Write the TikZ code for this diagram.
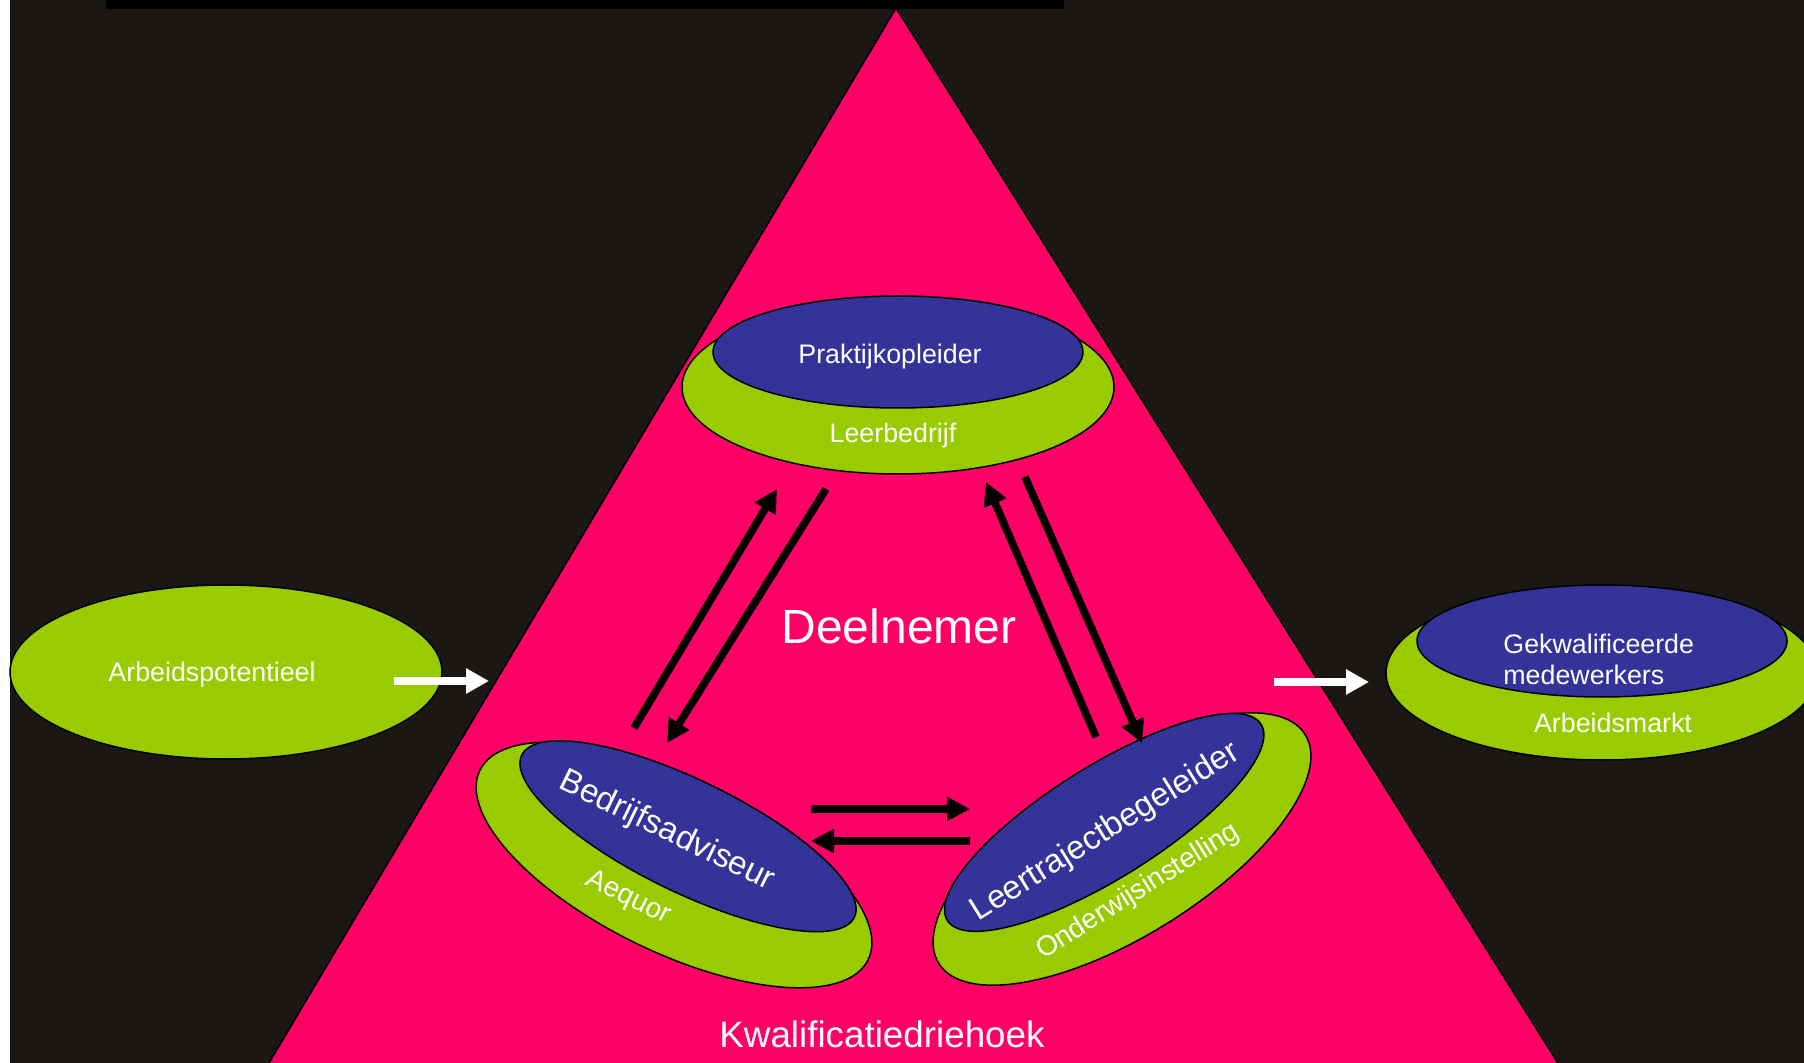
\documentclass[tikz,border=0pt]{standalone}
\usepackage{fontspec}
\setmainfont{Liberation Sans}
\usetikzlibrary{arrows.meta,positioning,shapes.geometric}
\definecolor{groen}{HTML}{99CC00}
\definecolor{blauw}{HTML}{333399}
\definecolor{roze}{HTML}{FF0066}
\definecolor{donker}{HTML}{1A1714}

\begin{document}
\begin{tikzpicture}[x=0.5pt,y=-0.5pt]
      \tikzstyle{schijf}=[ellipse,draw,line width=0.75pt,inner sep=0pt,fill=groen,minimum width=216pt,minimum height=87pt]
      \tikzstyle{kern}=[ellipse,draw,line width=0.75pt,inner sep=0pt,fill=blauw,minimum width=185pt,minimum height=56pt]
      \tikzstyle{klein}=[text=white,inner sep=0pt,font=\fontsize{13.4pt}{15.5pt}\selectfont]
      \tikzstyle{groot}=[text=white,inner sep=0pt,font=\fontsize{16.5pt}{19pt}\selectfont]
      \tikzstyle{pijl}=[line width=3.8pt,-{Triangle[length=11.5pt,width=11.5pt]}]
      \tikzstyle{witpijl}=[white,line width=4pt,-{Triangle[length=11.5pt,width=12pt]}]
      \useasboundingbox (0,0) rectangle (1804,1063);
      \clip (0,0) rectangle (1804,1063);
      \fill[white] (0,0) rectangle (10,1063);
      \fill[donker] (10,0) rectangle (1804,1063);
      \fill[black] (106,0) rectangle (1064,9);
      \draw[fill=roze,line width=0.75pt] (896,8) -- (1581,1100) -- (247,1100) -- cycle;
      % top
      \begin{scope}[shift={(898,387)}]
        \node[schijf] (leerbedrijf) at (0,0) {};
        \node[kern] (praktijk) at (0,-35) {};
        \node[klein] (praktijktxt) at (-8,-30) {Praktijkopleider};
        \node[klein] (leerbedrijftxt) at (-5,49) {Leerbedrijf};
      \end{scope}
      % left
      \begin{scope}[shift={(674,865)},rotate=-26,transform shape]
        \node[schijf] (aequor) at (0,0) {};
        \node[kern] (adviseur) at (0,-32) {};
        \node[groot] (adviseurtxt) at (-21,-27) {Bedrijfsadviseur};
        \node[klein,font=\fontsize{14pt}{16pt}\selectfont] (aequortxt) at (-27,50) {Aequor};
      \end{scope}
      % right
      \begin{scope}[shift={(1122,849)},rotate=32,transform shape]
        \node[schijf] (school) at (0,0) {};
        \node[kern] (begeleider) at (-1,-32) {};
        \node[groot] (begeleidertxt) at (-5,-23) {Leertrajectbegeleider};
        \node[klein,font=\fontsize{14pt}{16pt}\selectfont] (schooltxt) at (-9,45) {Onderwijsinstelling};
      \end{scope}
      % outside
      \node[schijf] (potentieel) at (226,672) {};
      \node[klein] (potentieeltxt) at (212,675) {Arbeidspotentieel};
      \node[schijf] (markt) at (1602,673) {};
      \node[kern] (medewerkers) at (1602,641) {};
      \node[klein,align=left,anchor=west] (medewerkerstxt) at (1503,659) {Gekwalificeerde\\medewerkers};
      \node[klein] (markttxt) at (1613,723) {Arbeidsmarkt};
      \node[text=white,inner sep=0pt,anchor=base,font=\fontsize{24pt}{28pt}\selectfont] (deelnemer) at (899,643) {Deelnemer};
      \node[text=white,inner sep=0pt,anchor=base,font=\fontsize{18.4pt}{22pt}\selectfont] (driehoek) at (882,1047) {Kwalificatiedriehoek};
      % arrows
      \coordinate (p1) at (634,728); \coordinate (p2) at (777,489);
      \coordinate (p3) at (826,489); \coordinate (p4) at (667,743);
      \coordinate (p5) at (1096,737); \coordinate (p6) at (986,482);
      \coordinate (p7) at (1025,477); \coordinate (p8) at (1142,743);
      \coordinate (p9) at (811,809); \coordinate (p10) at (970,809);
      \coordinate (p11) at (970,841); \coordinate (p12) at (811,841);
      \coordinate (w1) at (394,681); \coordinate (w2) at (489,681);
      \coordinate (w3) at (1274,682); \coordinate (w4) at (1369,682);
      \draw[pijl] (p1) -- (p2);
      \draw[pijl] (p3) -- (p4);
      \draw[pijl] (p5) -- (p6);
      \draw[pijl] (p7) -- (p8);
      \draw[pijl] (p9) -- (p10);
      \draw[pijl] (p11) -- (p12);
      \draw[witpijl] (w1) -- (w2);
      \draw[witpijl] (w3) -- (w4);
    \end{tikzpicture}
\end{document}
